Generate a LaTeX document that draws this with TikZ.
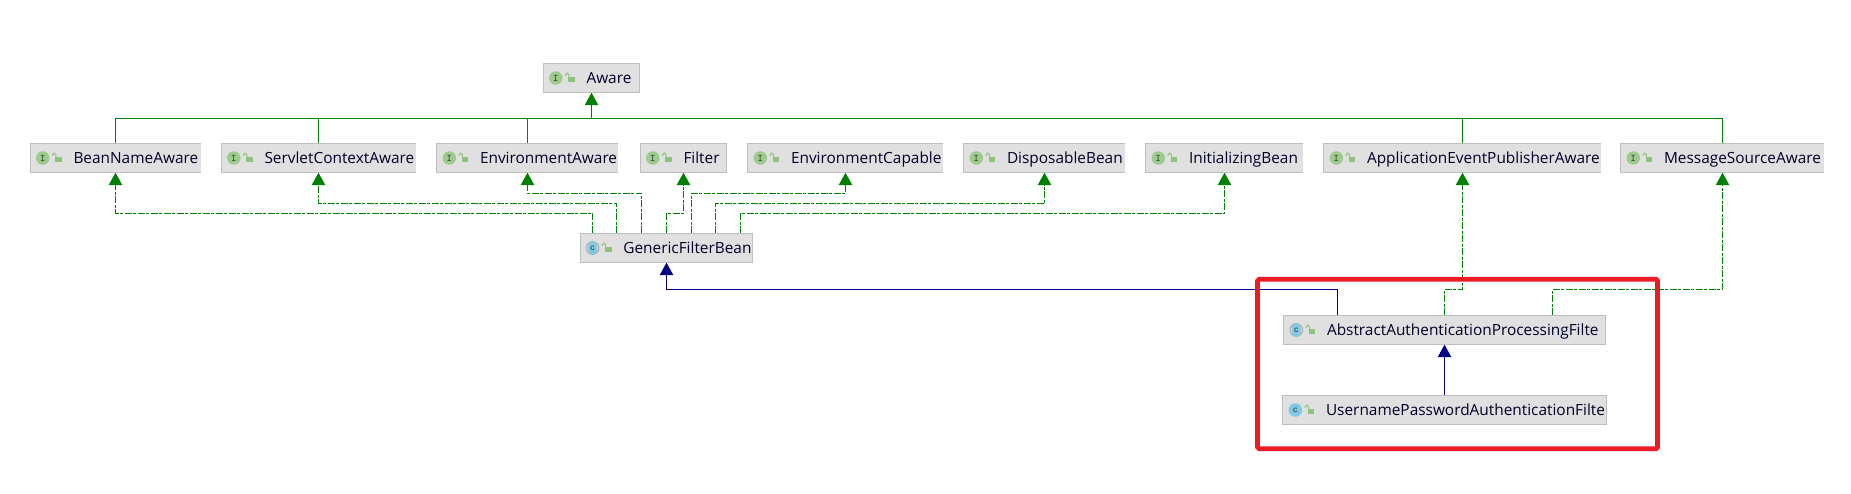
\documentclass[tikz,border=0pt]{standalone}
\usepackage{fontspec}
\setmainfont{Open Sans}
\usetikzlibrary{positioning, arrows.meta, calc, shapes.geometric}
\definecolor{boxfill}{HTML}{E0E0E0}
\definecolor{boxline}{HTML}{BEBEBE}
\definecolor{implgreen}{HTML}{008000}
\definecolor{extblue}{HTML}{000080}
\definecolor{markred}{HTML}{ED1C24}
\definecolor{lockgreen}{HTML}{8CC47C}
\definecolor{iconI}{HTML}{9CCB8C}
\definecolor{iconC}{HTML}{7FC9E6}

\begin{document}
\begin{tikzpicture}[
    x=1pt, y=-1pt,
    classbox/.style={rectangle, fill=boxfill, inner sep=0pt, minimum height=29pt},
    boxedge/.style={draw=boxline, line width=1.1pt},
    classname/.style={anchor=west, inner sep=0pt, font=\fontsize{15.4}{18}\selectfont, text=black!85!blue},
    iconletter/.style={circle, inner sep=0pt, minimum size=13.5pt, font=\ttfamily\bfseries\fontsize{10}{10}\selectfont, text=black!75},
    arrow/.style={-{Triangle[length=12.5pt, width=13.5pt]}, line width=1pt},
    plainline/.style={implgreen, line width=1pt},
    implements/.style={arrow, implgreen},
    realizes/.style={arrow, implgreen, line width=1.2pt, dash pattern=on 7pt off 1.5pt on 3pt off 1.5pt},
    extends/.style={arrow, extblue}
]
\useasboundingbox (0,0) rectangle (1851,494);

% Boxes: name/left/right/middle/icon/closed right edge/text
\foreach \name/\xl/\xr/\ym/\icon/\closed/\txt in {
    aware/543.5/639.5/78/I/1/Aware,
    beanname/30.5/200.5/158/I/0/BeanNameAware,
    servlet/221.5/415.5/158/I/0/ServletContextAware,
    environment/437/618/158/I/0/EnvironmentAware,
    filter/640.5/726.5/158/I/1/Filter,
    capable/748/943/158/I/0/EnvironmentCapable,
    disposable/964/1125/158/I/0/DisposableBean,
    initializing/1146/1303/158/I/0/InitializingBean,
    publisher/1324/1601/158/I/0/ApplicationEventPublisherAware,
    message/1621/1824/158/I/0/MessageSourceAware,
    generic/580.3/752.7/248/A/1/GenericFilterBean,
    abstract/1284/1605/330/A/1/AbstractAuthenticationProcessingFilte,
    username/1283/1606/410/C/1/UsernamePasswordAuthenticationFilte} {
    \node[classbox, minimum width={(\xr-\xl)*1pt}] (\name) at ({(\xl+\xr)/2}, \ym) {};
    \ifnum \closed = 1
        \draw[boxedge] (\name.north east) -- (\name.north west) -- (\name.south west) -- (\name.south east) -- cycle;
    \else
        \draw[boxedge] (\name.north east) -- (\name.north west) -- (\name.south west) -- (\name.south east);
    \fi
    % icon
    \if\icon I
        \node[iconletter, fill=iconI] (\name-icon) at ([xshift=12.5pt]\name.west) {I};
    \else
        \if\icon A
            \draw[gray!60, line width=1.4pt] ([xshift=12.5pt]\name.west) circle[radius=6.2pt];
            \node[iconletter, fill=iconC, ellipse, minimum size=0pt, minimum width=9pt, minimum height=14pt] (\name-icon) at ([xshift=12.5pt]\name.west) {c};
        \else
            \node[iconletter, fill=iconC] (\name-icon) at ([xshift=12.5pt]\name.west) {c};
        \fi
    \fi
    % lock
    \fill[lockgreen] ($(\name.west)+(25,-1.2)$) rectangle ++(6.5,5.6);
    \draw[lockgreen, line width=1pt] ($(\name.west)+(25.6,-1.2)$) -- ++(0,-2) arc[start angle=0, end angle=180, radius=1.7pt] -- ++(0,1.2);
    % name, cut off at the right edge of the box
    \begin{scope}
        \clip (\name.north west) rectangle (\name.south east);
        \node[classname] (\name-text) at ([xshift=43pt, yshift=-1.5pt]\name.west) {\strut\txt};
    \end{scope}
}

% Aware bus
\coordinate (bus) at ($(aware.south)+(0,26)$);
\draw[implements] (bus) -- (aware.south);
\foreach \name in {beanname, servlet, environment, publisher, message} {
    \draw[plainline] (\name.north) |- (bus);
}

% GenericFilterBean upwards
\foreach \name/\dx/\lift in {beanname/-74/20, servlet/-50/30, environment/-25/40, filter/0/20, capable/25/40, disposable/49/30, initializing/74/20} {
    \draw[realizes] ([xshift=\dx pt]generic.north) -- ++(0,-\lift) -| (\name.south);
}

% lower classes
\draw[extends] ([xshift=-107pt]abstract.north) -- ++(0,-26) -| (generic.south);
\draw[realizes] (abstract.north) -- ++(0,-26) -| (publisher.south);
\draw[realizes] ([xshift=108pt]abstract.north) -- ++(0,-26) -| (message.south);
\draw[extends] (username.north) -- (abstract.south);

% marker round the two filters
\node[draw=markred, line width=4.6pt, rounded corners=1.5pt, inner sep=0pt, minimum width=400pt, minimum height=169.5pt] (marker) at (1457.5,364) {};
\end{tikzpicture}
\end{document}
